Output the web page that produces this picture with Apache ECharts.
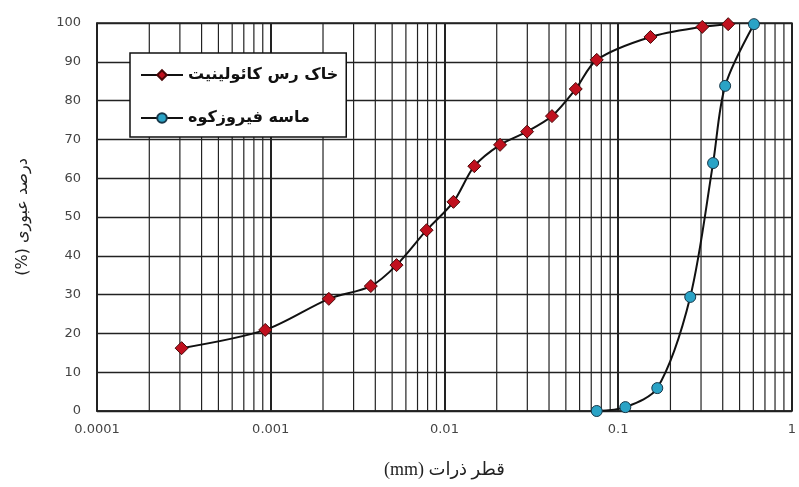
<!DOCTYPE html>
<html><head><meta charset="utf-8">
<script src="https://cdn.jsdelivr.net/npm/echarts@6/dist/echarts.min.js"></script>
<style>html,body{margin:0;padding:0;background:#fff}#c{width:799px;height:487px}</style>
</head><body><div id="c"></div>
<script>
// Kaolinite clay (خاک رس کائولینیت)
const clayX = [0.000307, 0.00093, 0.00216, 0.00377, 0.0053, 0.00789, 0.01127, 0.01486, 0.0209, 0.0299, 0.0416, 0.057, 0.0753, 0.1535, 0.305, 0.43];
const clayY = [16.2, 20.9, 28.9, 32.2, 37.6, 46.6, 53.9, 63.1, 68.6, 72.0, 76.0, 83.0, 90.5, 96.4, 99.0, 99.7];
// Firuzkuh sand (ماسه فیروزکوه)
const sandX = [0.0753, 0.110, 0.168, 0.260, 0.352, 0.413, 0.605];
const sandY = [0.0, 1.0, 5.9, 29.4, 63.9, 83.8, 99.7];
const xTickLabels = ['0.0001', '0.001', '0.01', '0.1', '1'];
const minorGrid = [0.0002,0.0003,0.0004,0.0005,0.0006,0.0007,0.0008,0.0009,
  0.002,0.003,0.004,0.005,0.006,0.007,0.008,0.009,
  0.02,0.03,0.04,0.05,0.06,0.07,0.08,0.09,
  0.2,0.3,0.4,0.5,0.6,0.7,0.8,0.9];
const clayName = 'خاک رس کائولینیت';
const sandName = 'ماسه فیروزکوه';

const chart = echarts.init(document.getElementById('c'), null, {renderer: 'canvas'});
const zip = (xs, ys) => xs.map((x, i) => [x, ys[i]]);
const gridData = [];
minorGrid.forEach(v => { gridData.push([v, 0], [v, 100], [v, '-']); });
chart.setOption({
  animation: false,
  backgroundColor: '#fff',
  grid: {left: 97, right: 4, top: 23, bottom: 76, show: true, borderColor: '#222', borderWidth: 1.5},
  legend: {
    orient: 'vertical', left: 130, top: 53,
    backgroundColor: '#fff', borderColor: '#111', borderWidth: 1.5,
    padding: [14, 8, 11, 10], itemGap: 27, itemWidth: 42, itemHeight: 12,
    textStyle: {fontFamily: 'DejaVu Sans', fontSize: 16, fontWeight: 'bold', color: '#111'},
    data: [clayName, sandName]
  },
  xAxis: {
    type: 'log', logBase: 10, min: 0.0001, max: 1,
    name: '(mm) قطر ذرات', nameLocation: 'middle', nameGap: 50,
    nameTextStyle: {fontFamily: 'Liberation Serif, DejaVu Sans', fontSize: 18, color: '#222'},
    axisLine: {lineStyle: {color: '#222', width: 1.5}},
    axisTick: {show: false},
    axisLabel: {fontFamily: 'DejaVu Sans', fontSize: 13, color: '#444', margin: 12,
      formatter: v => { const i = Math.round(Math.log10(v)) + 4; return xTickLabels[i] !== undefined ? xTickLabels[i] : ''; }},
    splitLine: {show: true, lineStyle: {color: '#222', width: 2}}
  },
  yAxis: {
    type: 'value', min: 0, max: 100, interval: 10,
    name: '(%) درصد عبوری', nameLocation: 'middle', nameGap: 66, nameRotate: 90,
    nameTextStyle: {fontFamily: 'DejaVu Sans', fontSize: 16, color: '#222'},
    axisLine: {show: true, lineStyle: {color: '#222', width: 1.5}},
    axisTick: {show: false},
    axisLabel: {fontFamily: 'DejaVu Sans', fontSize: 13, color: '#444', margin: 16},
    splitLine: {show: true, lineStyle: {color: '#222', width: 1.4}}
  },
  series: [
    {
      name: 'grid', type: 'line', data: gridData, silent: true, symbol: 'none',
      connectNulls: false, z: 1,
      lineStyle: {color: '#222', width: 1.2}
    },
    {
      name: clayName, type: 'line', data: zip(clayX, clayY), smooth: 0.3,
      symbol: 'diamond', symbolSize: 13, z: 5,
      lineStyle: {color: '#111', width: 2},
      itemStyle: {color: '#c0101e', borderColor: '#4a0808', borderWidth: 1}
    },
    {
      name: sandName, type: 'line', data: zip(sandX, sandY), smooth: 0.3,
      symbol: 'circle', symbolSize: 11, z: 5,
      lineStyle: {color: '#111', width: 2},
      itemStyle: {color: '#2aa3c6', borderColor: '#17384a', borderWidth: 1}
    }
  ]
});
</script></body></html>
